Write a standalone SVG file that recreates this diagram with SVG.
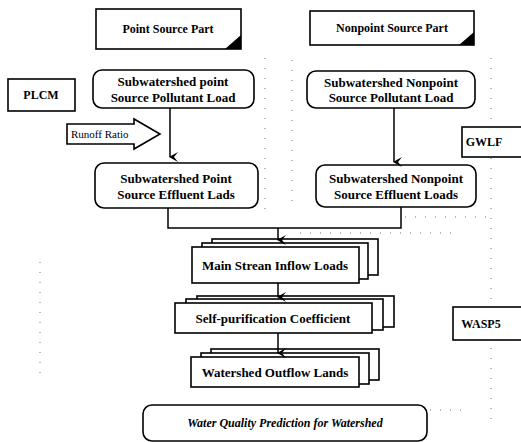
<svg xmlns="http://www.w3.org/2000/svg" width="521" height="442" viewBox="0 0 521 442">
<style>
.t{font-family:"Liberation Serif","Times New Roman",serif;font-weight:bold;font-size:13px;fill:#000;text-anchor:middle}
.s{font-size:12px}
.b{fill:#fff;stroke:#000;stroke-width:1.6}
.c{fill:none;stroke:#000;stroke-width:1.5}
.d{fill:none;stroke:#777;stroke-width:1;stroke-dasharray:1 9}
</style>
<defs>
<marker id="ah" markerWidth="10" markerHeight="10" refX="5" refY="9" orient="auto" markerUnits="userSpaceOnUse" viewBox="0 0 10 10">
<path d="M0,1 L5,10 L10,1 L5,5 Z" fill="#000"/>
</marker>
</defs>
<rect width="521" height="442" fill="#fff"/>
<g id="dots">
<path class="d" d="M265,58 V210"/>
<path class="d" d="M292,60 V205"/>
<path class="d" d="M491,58 V420"/>
<path class="d" d="M405,217 H495"/>
<path class="d" d="M300,233 H460"/>
<path class="d" d="M40,262 V380"/>
<path class="d" d="M430,410 H470"/>
</g>
<g id="point-source-part">
<rect class="b" x="96" y="9" width="145" height="40"/>
<path d="M241,35 L241,49 L225,49 Z" fill="#000"/>
<text class="t s" x="168" y="33">Point Source Part</text>
</g>
<g id="nonpoint-source-part">
<rect class="b" x="310" y="11" width="164" height="34"/>
<path d="M474,32 L474,45 L459,45 Z" fill="#000"/>
<text class="t s" x="392" y="32">Nonpoint Source Part</text>
</g>
<g id="plcm">
<rect class="b" x="8" y="79" width="67" height="32"/>
<text class="t s" x="41" y="99">PLCM</text>
</g>
<g id="point-load">
<rect class="b" x="93" y="70" width="161" height="38" rx="9"/>
<text class="t" x="173" y="86">Subwatershed point</text>
<text class="t" x="173" y="102">Source Pollutant Load</text>
</g>
<g id="nonpoint-load">
<rect class="b" x="307" y="71" width="168" height="37" rx="9"/>
<text class="t" x="391" y="87">Subwatershed Nonpoint</text>
<text class="t" x="391" y="102">Source Pollutant Load</text>
</g>
<g id="runoff-ratio">
<path class="b" d="M67,124 H134 V119 L160,134 L134,149 V144 H67 Z" stroke-width="1.4"/>
<text x="71" y="138" style="font-family:'Liberation Serif','Times New Roman',serif;font-size:11px;fill:#000">Runoff Ratio</text>
</g>
<g id="gwlf">
<rect class="b" x="462" y="127" width="62" height="30"/>
<text class="t s" x="484" y="146">GWLF</text>
</g>
<g id="point-effluent">
<rect class="b" x="95" y="163" width="163" height="45" rx="9"/>
<text class="t" x="176" y="183">Subwatershed Point</text>
<text class="t" x="176" y="199">Source Effluent Lads</text>
</g>
<g id="nonpoint-effluent">
<rect class="b" x="316" y="165" width="160" height="42" rx="9"/>
<text class="t" x="396" y="183">Subwatershed Nonpoint</text>
<text class="t" x="396" y="199">Source Effluent Loads</text>
</g>
<g id="main-stream">
<rect class="b" x="212" y="239" width="166" height="36"/>
<rect class="b" x="202" y="243" width="166" height="36"/>
<rect class="b" x="192" y="247" width="167" height="36"/>
<text class="t" x="275" y="270">Main Strean Inflow Loads</text>
</g>
<g id="self-purification">
<rect class="b" x="197" y="296" width="197" height="31"/>
<rect class="b" x="186" y="299" width="197" height="31"/>
<rect class="b" x="175" y="303" width="197" height="30"/>
<text class="t" x="273" y="323">Self-purification Coefficient</text>
</g>
<g id="outflow">
<rect class="b" x="211" y="349" width="168" height="31"/>
<rect class="b" x="201" y="353" width="168" height="31"/>
<rect class="b" x="191" y="357" width="168" height="30"/>
<text class="t" x="275" y="377">Watershed Outflow Lands</text>
</g>
<g id="wasp5">
<rect class="b" x="453" y="307" width="72" height="33"/>
<text class="t s" x="481" y="328">WASP5</text>
</g>
<g id="prediction">
<rect class="b" x="143" y="405" width="284" height="36" rx="9"/>
<text class="t s" x="285" y="427" font-style="italic">Water Quality Prediction for Watershed</text>
</g>
<g id="connectors">
<path class="c" d="M170,108 V157" marker-end="url(#ah)"/>
<path class="c" d="M394,108 V162" marker-end="url(#ah)"/>
<path class="c" d="M168,208 V228 H401 V207"/>
<path class="c" d="M278,228 V240" marker-end="url(#ah)"/>
<path class="c" d="M278,283 V297" marker-end="url(#ah)"/>
<path class="c" d="M278,333 V353" marker-end="url(#ah)"/>
</g>
</svg>
